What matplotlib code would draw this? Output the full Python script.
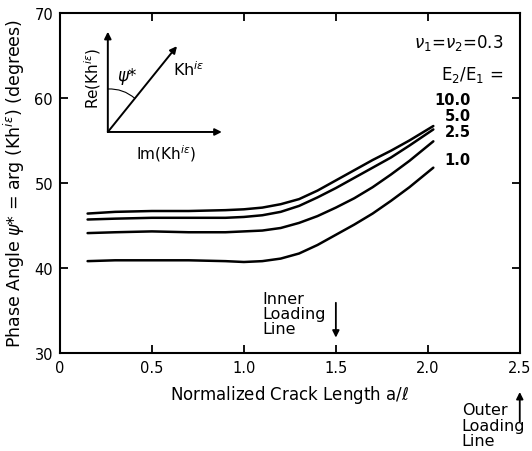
import matplotlib
matplotlib.use("Agg")
import matplotlib.pyplot as plt

plt.rcParams['font.family'] = ['DejaVu Sans']
plt.rcParams['mathtext.fontset'] = 'dejavusans'

# normalized crack length a/l
crack_len = [0.15, 0.3, 0.5, 0.7, 0.9, 1.0, 1.1, 1.2, 1.3, 1.4, 1.5, 1.6, 1.7, 1.8, 1.9, 2.03]

# phase angle (degrees) for each E2/E1
psi_10 = [46.4, 46.6, 46.7, 46.7, 46.8, 46.9, 47.1, 47.5, 48.1, 49.1, 50.3, 51.5, 52.7, 53.8, 55.0, 56.7]
psi_5 = [45.7, 45.8, 45.9, 45.9, 45.9, 46.0, 46.2, 46.6, 47.3, 48.3, 49.4, 50.6, 51.8, 53.0, 54.4, 56.3]
psi_25 = [44.1, 44.2, 44.3, 44.2, 44.2, 44.3, 44.4, 44.7, 45.3, 46.1, 47.1, 48.2, 49.5, 51.0, 52.6, 54.9]
psi_1 = [40.8, 40.9, 40.9, 40.9, 40.8, 40.7, 40.8, 41.1, 41.7, 42.7, 43.9, 45.1, 46.4, 47.9, 49.5, 51.8]

ratio_labels = ["10.0", "5.0", "2.5", "1.0"]

x_ticks = [0, 0.5, 1.0, 1.5, 2.0, 2.5]
x_tick_labels = ["0", "0.5", "1.0", "1.5", "2.0", "2.5"]
y_ticks = [30, 40, 50, 60, 70]

fig = plt.figure(figsize=(5.32, 4.52), dpi=100)
ax = fig.add_axes([0.1128, 0.217, 0.977 - 0.1128, 0.969 - 0.217])

for psi in [psi_10, psi_5, psi_25, psi_1]:
    ax.plot(crack_len, psi, color="black", lw=1.8, solid_capstyle="round")

ax.set_xlim(0, 2.5)
ax.set_ylim(30, 70)
ax.set_xticks(x_ticks)
ax.set_xticklabels(x_tick_labels)
ax.set_yticks(y_ticks)
ax.tick_params(direction="in", length=6, width=1.3, labelsize=10.5,
               top=True, right=True, pad=5)
for s in ax.spines.values():
    s.set_linewidth(1.5)

ax.set_xlabel(r"Normalized Crack Length a/$\ell$", fontsize=12, labelpad=6)
ax.set_ylabel(r"Phase Angle $\psi$* = arg (Kh$^{i\epsilon}$) (degrees)",
              fontsize=12.5, labelpad=5)

# inset sketch of the complex stress intensity factor
ox, oy = 0.26, 56.0
arrow = dict(arrowstyle="-|>", color="black", lw=1.4, mutation_scale=10,
             shrinkA=0, shrinkB=0)
ax.annotate("", xy=(ox, 67.8), xytext=(ox, oy), arrowprops=arrow)
ax.annotate("", xy=(0.88, oy), xytext=(ox, oy), arrowprops=arrow)
ax.annotate("", xy=(0.636, 66.1), xytext=(ox, oy), arrowprops=arrow)
ax.annotate("", xy=(0.407, 59.95), xytext=(ox, 61.06),
            arrowprops=dict(arrowstyle="-", color="black", lw=0.8,
                            shrinkA=0, shrinkB=0,
                            connectionstyle="arc3,rad=-0.2"))
ax.text(0.364, 62.6, r"$\psi$*", fontsize=12, ha="center", va="center")
ax.text(0.70, 63.4, r"Kh$^{i\epsilon}$", fontsize=11.5, ha="center", va="center")
ax.text(0.18, 62.4, r"Re(Kh$^{i\epsilon}$)", fontsize=11, rotation=90,
        ha="center", va="center")
ax.text(0.576, 53.6, r"Im(Kh$^{i\epsilon}$)", fontsize=11, ha="center", va="center")

# legend text
ax.text(2.41, 66.6, r"$\nu_1$=$\nu_2$=0.3", fontsize=12, ha="right", va="center")
ax.text(2.41, 62.8, r"E$_2$/E$_1$ =", fontsize=12, ha="right", va="center")
label_y = [59.8, 57.9, 56.1, 52.8]
for lab, ly in zip(ratio_labels, label_y):
    ax.text(2.234, ly, lab, fontsize=10.5, fontweight="bold", ha="right", va="center")

# loading lines
ax.text(1.098, 34.6, "Inner\nLoading\nLine", fontsize=11.5, ha="left", va="center",
        linespacing=1.0)
ax.annotate("", xy=(1.5, 31.8), xytext=(1.5, 35.9),
            arrowprops=dict(arrowstyle="-|>", color="black", lw=1.3,
                            mutation_scale=10, shrinkA=0, shrinkB=0))
ax.text(2.185, 21.5, "Outer\nLoading\nLine", fontsize=11.5, ha="left", va="center",
        linespacing=1.05, clip_on=False)
ax.annotate("", xy=(2.5, 25.4), xytext=(2.5, 21.9),
            xycoords="data", annotation_clip=False,
            arrowprops=dict(arrowstyle="-|>", color="black", lw=1.3,
                            mutation_scale=10, shrinkA=0, shrinkB=0))

fig.savefig("out.png", dpi=100)
